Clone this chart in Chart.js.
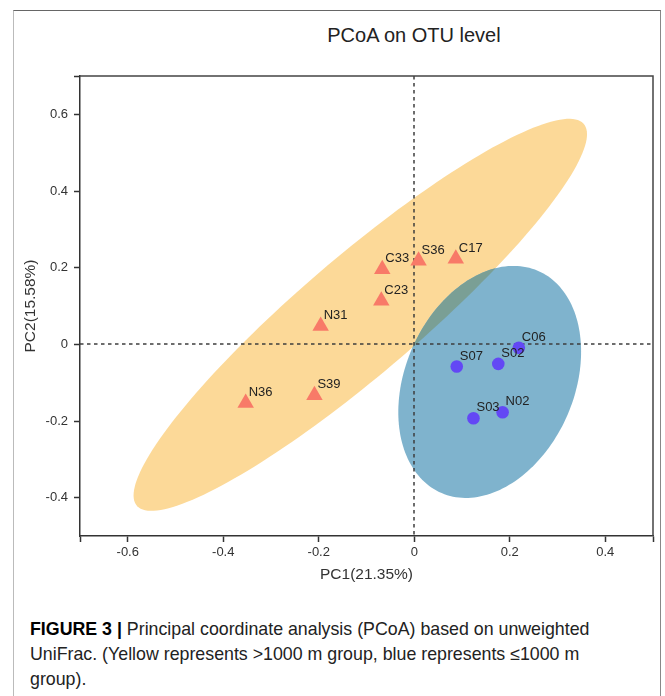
<!DOCTYPE html>
<html>
<head>
<meta charset="utf-8">
<script src="https://cdn.jsdelivr.net/npm/chart.js@4.4.1/dist/chart.umd.min.js"></script>
<style>
  body { margin: 0; background: #fff; font-family: "Liberation Sans", Arial, sans-serif; }
  #frame { position: absolute; left: 13px; top: 10px; width: 646px; height: 720px;
           border-top: 1px solid #666; border-left: 1px solid #bbb; border-right: 1px solid #888; }
  #title { position: absolute; left: 264px; top: 23px; width: 300px; text-align: center;
           font-size: 20px; line-height: 24px; color: #222; }
  #chart { position: absolute; left: 0; top: 0; }
  #caption { position: absolute; left: 30px; top: 617px; font-size: 17.8px; line-height: 25px;
             color: #222; white-space: nowrap; }
  #caption b { color: #000; }
</style>
</head>
<body>
<div id="frame"></div>
<div id="title">PCoA on OTU level</div>
<canvas id="chart" width="665" height="600"></canvas>
<div id="caption"><b>FIGURE 3 |</b> Principal coordinate analysis (PCoA) based on unweighted<br>UniFrac. (Yellow represents &gt;1000 m group, blue represents ≤1000 m<br>group).</div>

<script>
// samples of the >1000 m group (triangles)
const yellowLabels = ["N31", "C33", "S36", "C17", "C23", "N36", "S39"];
const yellowPC1 = [-0.196, -0.067, 0.009, 0.087, -0.069, -0.353, -0.209];
const yellowPC2 = [0.048, 0.196, 0.218, 0.223, 0.114, -0.153, -0.133];

// samples of the <=1000 m group (circles)
const blueLabels = ["C06", "S07", "S02", "S03", "N02"];
const bluePC1 = [0.219, 0.089, 0.176, 0.124, 0.185];
const bluePC2 = [-0.009, -0.058, -0.051, -0.193, -0.177];

// group ellipses (data units): yellow, blue
const ellipseCenterX = [-0.113, 0.158];
const ellipseCenterY = [0.077, -0.098];
const ellipseRadiusA = [0.684, 0.309];
const ellipseRadiusB = [0.138, 0.181];
const ellipseAngle = [47.3, 75.6];

const xTickValues = [-0.7, -0.6, -0.4, -0.2, 0, 0.2, 0.4, 0.5];
const yTickValues = [-0.5, -0.4, -0.2, 0, 0.2, 0.4, 0.6, 0.7];

const toPoints = (xs, ys) => xs.map((x, i) => ({ x: x, y: ys[i] }));

function ellipsePath(ctx, sx, sy, i) {
  const th = ellipseAngle[i] * Math.PI / 180;
  ctx.beginPath();
  for (let k = 0; k <= 180; k++) {
    const t = k / 180 * 2 * Math.PI;
    const dx = ellipseRadiusA[i] * Math.cos(t);
    const dy = ellipseRadiusB[i] * Math.sin(t);
    const x = ellipseCenterX[i] + dx * Math.cos(th) - dy * Math.sin(th);
    const y = ellipseCenterY[i] + dx * Math.sin(th) + dy * Math.cos(th);
    const px = sx.getPixelForValue(x), py = sy.getPixelForValue(y);
    if (k === 0) ctx.moveTo(px, py); else ctx.lineTo(px, py);
  }
  ctx.closePath();
}

const backdrop = {
  id: "backdrop",
  beforeDatasetsDraw(chart) {
    const ctx = chart.ctx, sx = chart.scales.x, sy = chart.scales.y;
    const a = chart.chartArea;
    ctx.save();
    ellipsePath(ctx, sx, sy, 0);
    ctx.fillStyle = "#fcd998";
    ctx.fill();
    ellipsePath(ctx, sx, sy, 1);
    ctx.fillStyle = "#7fb3cd";
    ctx.fill();
    // overlap of the two groups
    ellipsePath(ctx, sx, sy, 0);
    ctx.clip();
    ellipsePath(ctx, sx, sy, 1);
    ctx.fillStyle = "#7a9f95";
    ctx.fill();
    ctx.restore();

    // dashed zero lines
    ctx.save();
    ctx.strokeStyle = "rgba(60,60,60,0.75)";
    ctx.lineWidth = 2;
    ctx.setLineDash([3.5, 3.5]);
    const x0 = Math.round(sx.getPixelForValue(0)), y0 = Math.round(sy.getPixelForValue(0));
    ctx.beginPath();
    ctx.moveTo(x0, a.top); ctx.lineTo(x0, a.bottom);
    ctx.moveTo(a.left, y0); ctx.lineTo(a.right, y0);
    ctx.stroke();
    ctx.restore();

    // top and right sides of the box
    ctx.save();
    ctx.strokeStyle = "#444";
    ctx.lineWidth = 1.5;
    ctx.beginPath();
    ctx.moveTo(a.left, a.top); ctx.lineTo(a.right, a.top); ctx.lineTo(a.right, a.bottom);
    ctx.stroke();
    ctx.restore();
  },
  afterDatasetsDraw(chart) {
    const ctx = chart.ctx;
    ctx.save();
    ctx.font = "13px 'Liberation Sans', Arial, sans-serif";
    ctx.fillStyle = "#222";
    ctx.textAlign = "left";
    ctx.textBaseline = "middle";
    chart.data.datasets.forEach((ds, di) => {
      chart.getDatasetMeta(di).data.forEach((pt, i) => {
        ctx.fillText(ds.names[i], pt.x + 3, pt.y - 10.5);
      });
    });
    ctx.restore();
  }
};

const tickLabel = (v, ends) => ends.includes(v) ? "" : (v === 0 ? "0" : v.toFixed(1));

new Chart(document.getElementById("chart"), {
  type: "scatter",
  data: {
    datasets: [
      {
        label: ">1000 m",
        names: yellowLabels,
        data: toPoints(yellowPC1, yellowPC2),
        pointStyle: "triangle",
        pointRadius: 9.5,
        backgroundColor: "#f87a68",
        borderColor: "#f87a68",
        borderWidth: 0
      },
      {
        label: "≤1000 m",
        names: blueLabels,
        data: toPoints(bluePC1, bluePC2),
        pointStyle: "circle",
        pointRadius: 6.3,
        backgroundColor: "#6348f5",
        borderColor: "#6348f5",
        borderWidth: 0
      }
    ]
  },
  options: {
    responsive: false,
    devicePixelRatio: 1,
    animation: false,
    layout: { padding: { left: 14, right: 12, top: 76, bottom: 0 } },
    plugins: {
      legend: { display: false },
      tooltip: { enabled: false }
    },
    scales: {
      x: {
        type: "linear",
        min: -0.7,
        max: 0.5,
        afterBuildTicks: s => { s.ticks = xTickValues.map(v => ({ value: v })); },
        afterFit: s => { s.height = 64; },
        grid: { drawOnChartArea: false, tickLength: 6, tickColor: "#333", tickWidth: 1.5 },
        border: { color: "#333", width: 1.5 },
        ticks: {
          padding: 3,
          color: "#333",
          font: { family: "'Liberation Sans', Arial, sans-serif", size: 13 },
          callback: v => tickLabel(v, [-0.7, 0.5])
        },
        title: {
          display: true,
          text: "PC1(21.35%)",
          color: "#333",
          font: { family: "'Liberation Sans', Arial, sans-serif", size: 15.5 },
          padding: { top: 0, bottom: 16 }
        }
      },
      y: {
        type: "linear",
        min: -0.5,
        max: 0.7,
        afterBuildTicks: s => { s.ticks = yTickValues.map(v => ({ value: v })); },
        afterFit: s => { s.width = 66; },
        grid: {
          drawOnChartArea: false,
          tickLength: 6,
          tickWidth: 1.5,
          tickColor: c => (c.tick && c.tick.value === -0.5) ? "rgba(0,0,0,0)" : "#333"
        },
        border: { color: "#333", width: 1.5 },
        ticks: {
          padding: 6,
          color: "#333",
          font: { family: "'Liberation Sans', Arial, sans-serif", size: 13 },
          callback: v => tickLabel(v, [-0.5, 0.7])
        },
        title: {
          display: true,
          text: "PC2(15.58%)",
          color: "#333",
          font: { family: "'Liberation Sans', Arial, sans-serif", size: 15.5 },
          padding: { top: 7, bottom: 0 }
        }
      }
    }
  },
  plugins: [backdrop]
});
</script>
</body>
</html>
